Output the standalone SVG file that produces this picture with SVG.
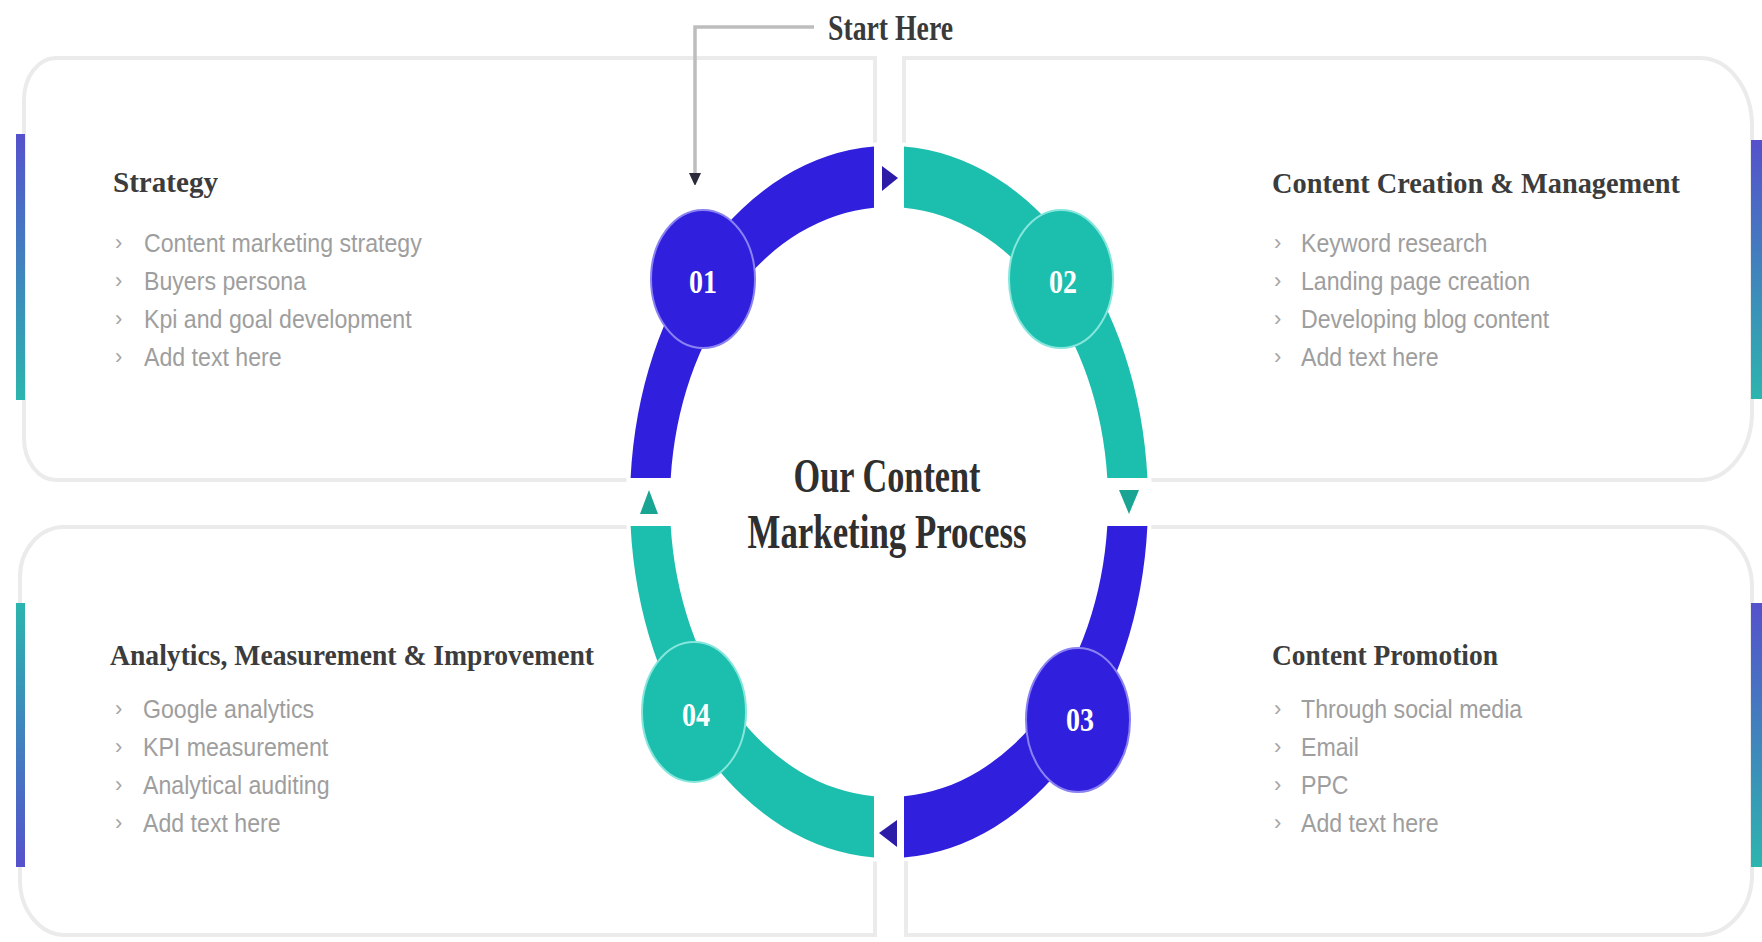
<svg xmlns="http://www.w3.org/2000/svg" width="1762" height="942" viewBox="0 0 1762 942">
  <defs>
    <linearGradient id="gPT" x1="0" y1="0" x2="0" y2="1">
      <stop offset="0" stop-color="#5551cc"/>
      <stop offset="1" stop-color="#2cb5ae"/>
    </linearGradient>
    <linearGradient id="gTP" x1="0" y1="0" x2="0" y2="1">
      <stop offset="0" stop-color="#2cb5ae"/>
      <stop offset="1" stop-color="#5551cc"/>
    </linearGradient>
    <marker id="arrowDown" markerUnits="userSpaceOnUse" markerWidth="12" markerHeight="14" refX="1" refY="6" orient="auto">
      <path d="M0,0 L13,6 L0,12 Z" fill="#2a2a3a"/>
    </marker>
    <style>
      .panel { fill: #ffffff; stroke: #ebebeb; stroke-width: 4; }
      .head { font-family: "Liberation Serif", "Times New Roman", serif; font-weight: bold; font-size: 30px; fill: #3c3c3c; }
      .bul { font-family: "Liberation Sans", Arial, sans-serif; font-size: 26px; fill: #9e9e9e; }
      .mark { font-family: "Liberation Sans", Arial, sans-serif; font-size: 22px; fill: #a5a5a5; }
      .num { font-family: "Liberation Serif", "Times New Roman", serif; font-weight: bold; font-size: 33px; fill: #ffffff; text-anchor: middle; }
      .title { font-family: "Liberation Serif", "Times New Roman", serif; font-weight: bold; font-size: 48px; fill: #2f2f2f; text-anchor: middle; }
      .blue { fill: #3020dd; }
      .teal { fill: #1cbfae; }
      .cblue { fill: #3020dd; stroke: #8a82f2; stroke-width: 2; }
      .cteal { fill: #1cbfae; stroke: #86e6dc; stroke-width: 2; }
    </style>
  </defs>

  <rect x="0" y="0" width="1762" height="942" fill="#ffffff"/>

  <!-- Panels -->
  <g id="panel-1">
    <path class="panel" d="M875 58 L56 58 A32 42 0 0 0 24 100 L24 438 A32 42 0 0 0 56 480 L875 480 Z"/>
    <rect x="16" y="134" width="9" height="266" fill="url(#gPT)"/>
    <text class="head" x="113" y="192" textLength="105" lengthAdjust="spacingAndGlyphs">Strategy</text>
    <g class="mark">
      <text x="115" y="250">›</text>
      <text x="115" y="288">›</text>
      <text x="115" y="326">›</text>
      <text x="115" y="364">›</text>
    </g>
    <g transform="translate(144 0) scale(0.89 1)">
      <text class="bul" x="0" y="252">Content marketing strategy</text>
      <text class="bul" x="0" y="290">Buyers persona</text>
      <text class="bul" x="0" y="328">Kpi and goal development</text>
      <text class="bul" x="0" y="366">Add text here</text>
    </g>
  </g>

  <g id="panel-2">
    <path class="panel" d="M904 58 L1700 58 A52 68 0 0 1 1752 126 L1752 412 A52 68 0 0 1 1700 480 L904 480 Z"/>
    <rect x="1751" y="140" width="11" height="259" fill="url(#gPT)"/>
    <text class="head" x="1272" y="193" textLength="408" lengthAdjust="spacingAndGlyphs">Content Creation &amp; Management</text>
    <g class="mark">
      <text x="1274" y="250">›</text>
      <text x="1274" y="288">›</text>
      <text x="1274" y="326">›</text>
      <text x="1274" y="364">›</text>
    </g>
    <g transform="translate(1301 0) scale(0.89 1)">
      <text class="bul" x="0" y="252">Keyword research</text>
      <text class="bul" x="0" y="290">Landing page creation</text>
      <text class="bul" x="0" y="328">Developing blog content</text>
      <text class="bul" x="0" y="366">Add text here</text>
    </g>
  </g>

  <g id="panel-3">
    <path class="panel" d="M875 527 L64 527 A44 50 0 0 0 20 577 L20 880 A45 55 0 0 0 65 935 L875 935 Z"/>
    <rect x="16" y="603" width="9" height="264" fill="url(#gTP)"/>
    <text class="head" x="110" y="665" textLength="484" lengthAdjust="spacingAndGlyphs">Analytics, Measurement &amp; Improvement</text>
    <g class="mark">
      <text x="115" y="716">›</text>
      <text x="115" y="754">›</text>
      <text x="115" y="792">›</text>
      <text x="115" y="830">›</text>
    </g>
    <g transform="translate(143 0) scale(0.89 1)">
      <text class="bul" x="0" y="718">Google analytics</text>
      <text class="bul" x="0" y="756">KPI measurement</text>
      <text class="bul" x="0" y="794">Analytical  auditing</text>
      <text class="bul" x="0" y="832">Add text here</text>
    </g>
  </g>

  <g id="panel-4">
    <path class="panel" d="M906 527 L1700 527 A52 60 0 0 1 1752 587 L1752 875 A52 60 0 0 1 1700 935 L906 935 Z"/>
    <rect x="1751" y="603" width="11" height="264" fill="url(#gPT)"/>
    <text class="head" x="1272" y="665" textLength="226" lengthAdjust="spacingAndGlyphs">Content Promotion</text>
    <g class="mark">
      <text x="1274" y="716">›</text>
      <text x="1274" y="754">›</text>
      <text x="1274" y="792">›</text>
      <text x="1274" y="830">›</text>
    </g>
    <g transform="translate(1301 0) scale(0.89 1)">
      <text class="bul" x="0" y="718">Through social media</text>
      <text class="bul" x="0" y="756">Email</text>
      <text class="bul" x="0" y="794">PPC</text>
      <text class="bul" x="0" y="832">Add text here</text>
    </g>
  </g>

  <!-- Ring -->
  <g id="ring">
    <ellipse cx="889" cy="502" rx="263" ry="360" fill="#ffffff"/>
    <path class="blue" d="M630.6 478 A259 356 0 0 1 874 146.6 L874 207.7 A219 295 0 0 0 670.7 478 Z"/>
    <path class="teal" d="M904 146.6 A259 356 0 0 1 1147.4 478 L1107.3 478 A219 295 0 0 0 904 207.7 Z"/>
    <path class="blue" d="M1147.4 526 A259 356 0 0 1 904 857.4 L904 796.3 A219 295 0 0 0 1107.3 526 Z"/>
    <path class="teal" d="M874 857.4 A259 356 0 0 1 630.6 526 L670.7 526 A219 295 0 0 0 874 796.3 Z"/>
  </g>

  <!-- Steps -->
  <g id="step-1">
    <ellipse class="cblue" cx="703" cy="279" rx="52" ry="69"/>
    <text class="num" x="703" y="293" textLength="28" lengthAdjust="spacingAndGlyphs">01</text>
  </g>
  <g id="step-2">
    <ellipse class="cteal" cx="1061" cy="279" rx="52" ry="69"/>
    <text class="num" x="1063" y="293" textLength="28" lengthAdjust="spacingAndGlyphs">02</text>
  </g>
  <g id="step-3">
    <ellipse class="cblue" cx="1078" cy="720" rx="52" ry="72"/>
    <text class="num" x="1080" y="731" textLength="28" lengthAdjust="spacingAndGlyphs">03</text>
  </g>
  <g id="step-4">
    <ellipse class="cteal" cx="694" cy="712" rx="52" ry="70"/>
    <text class="num" x="696" y="726" textLength="28" lengthAdjust="spacingAndGlyphs">04</text>
  </g>

  <!-- Title -->
  <g id="title">
    <text class="title" x="887" y="492" textLength="187" lengthAdjust="spacingAndGlyphs">Our Content</text>
    <text class="title" x="887" y="548" textLength="279" lengthAdjust="spacingAndGlyphs">Marketing Process</text>
  </g>

  <!-- Start label -->
  <g id="start-label">
    <text x="828" y="40" font-family="Liberation Serif, Times New Roman, serif" font-weight="bold" font-size="36" fill="#3a3a3a" textLength="125" lengthAdjust="spacingAndGlyphs">Start Here</text>
  </g>

  <!-- Connectors -->
  <g id="connectors">
    <polyline points="814,27 695,27 695,174" fill="none" stroke="#bdbdbd" stroke-width="3.5" marker-end="url(#arrowDown)"/>
    <polygon points="882,166 898,178 882,191" fill="#2c1ca8"/>
    <polygon points="1119,490 1139,490 1129,514" fill="#19a493"/>
    <polygon points="897,820 897,847 879,833" fill="#2c1ca8"/>
    <polygon points="640,514 658,514 649,490" fill="#19a493"/>
  </g>
</svg>
